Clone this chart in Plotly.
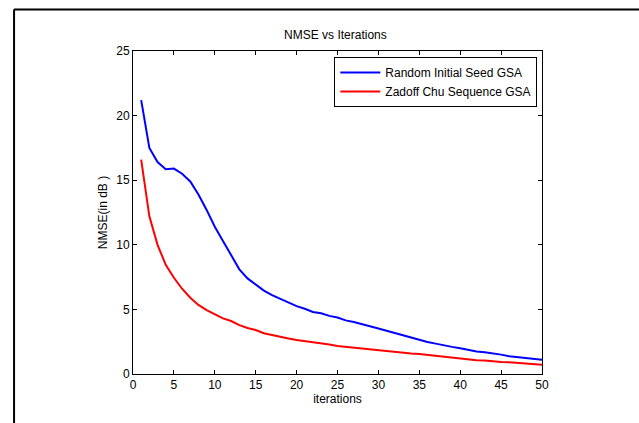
import plotly.graph_objects as go

iterations = list(range(1, 51))
random_seed_gsa = [21.2, 17.5, 16.4, 15.85, 15.9, 15.5, 14.9, 13.9, 12.7, 11.4,
                   10.3, 9.25, 8.1, 7.4, 6.95, 6.45, 6.1, 5.8, 5.5, 5.25,
                   5.05, 4.8, 4.7, 4.5, 4.37, 4.15, 4.03, 3.85, 3.65, 3.52,
                   3.35, 3.15, 3.0, 2.82, 2.62, 2.48, 2.35, 2.2, 2.1, 2.0,
                   1.88, 1.74, 1.68, 1.6, 1.5, 1.38, 1.3, 1.22, 1.15, 1.1]
zadoff_chu_gsa = [16.6, 12.2, 10.0, 8.45, 7.45, 6.6, 5.9, 5.35, 4.95, 4.6,
                  4.3, 4.1, 3.78, 3.56, 3.4, 3.15, 3.0, 2.85, 2.75, 2.63,
                  2.55, 2.48, 2.38, 2.28, 2.17, 2.1, 2.04, 1.97, 1.9, 1.84,
                  1.77, 1.68, 1.6, 1.58, 1.55, 1.48, 1.4, 1.32, 1.3, 1.2,
                  1.13, 1.06, 1.05, 0.97, 0.93, 0.9, 0.85, 0.78, 0.73, 0.72]
series_names = ["Random Initial Seed GSA", "Zadoff Chu Sequence GSA"]
x_ticks = [0, 5, 10, 15, 20, 25, 30, 35, 40, 45, 50]
y_ticks = [0, 5, 10, 15, 20, 25]

FONT = "Liberation Sans, Arial, sans-serif"
FS = 12

fig = go.Figure()
fig.add_trace(go.Scatter(x=iterations, y=random_seed_gsa, mode="lines",
                         name=series_names[0], line=dict(color="#0000ff", width=2)))
fig.add_trace(go.Scatter(x=iterations, y=zadoff_chu_gsa, mode="lines",
                         name=series_names[1], line=dict(color="#ff0000", width=2)))

W, H = 639, 423
L, R, T, B = 132.5, 541.7, 51, 373.7
pw, ph = R - L, B - T

def px(xp):
    return (xp - L) / pw

def py(yp):
    return (B - yp) / ph

axis_common = dict(showgrid=False, zeroline=False, showline=True, linecolor="black",
                   linewidth=1, mirror="ticks", ticks="inside", ticklen=4,
                   tickcolor="black", tickwidth=1,
                   tickfont=dict(family=FONT, size=FS, color="black"))

fig.update_layout(
    width=W, height=H,
    margin=dict(l=L, r=W - R, t=T, b=H - B, pad=0),
    paper_bgcolor="white", plot_bgcolor="white",
    font=dict(family=FONT, size=FS, color="black"),
    title=dict(text="NMSE vs Iterations", x=px(335), xref="paper", xanchor="center",
               y=1 - 35 / H, yref="container", yanchor="middle",
               font=dict(family=FONT, size=FS, color="black")),
    xaxis=dict(range=[0, 50], tickvals=x_ticks,
               title=dict(text="iterations", standoff=1,
                          font=dict(family=FONT, size=FS, color="black")),
               **axis_common),
    yaxis=dict(range=[0, 25], tickvals=y_ticks,
               title=dict(text="NMSE(in dB )", standoff=6,
                          font=dict(family=FONT, size=FS, color="black")),
               **axis_common),
    showlegend=True,
    legend=dict(x=px(537), y=py(57), xanchor="right", yanchor="top",
                bgcolor="white", bordercolor="black", borderwidth=1,
                font=dict(family=FONT, size=FS, color="black"),
                tracegroupgap=0, itemwidth=40),
    shapes=[
        dict(type="line", xref="paper", yref="paper", x0=px(13.5), x1=px(13.5),
             y0=py(9.5), y1=py(423), line=dict(color="black", width=2)),
        dict(type="line", xref="paper", yref="paper", x0=px(13.5), x1=px(639),
             y0=py(9.5), y1=py(9.5), line=dict(color="black", width=2)),
    ],
)

fig.write_html(
    "out.html",
    config={"displayModeBar": False},
    post_script="document.body.style.margin='0';document.body.style.overflow='hidden';",
)
